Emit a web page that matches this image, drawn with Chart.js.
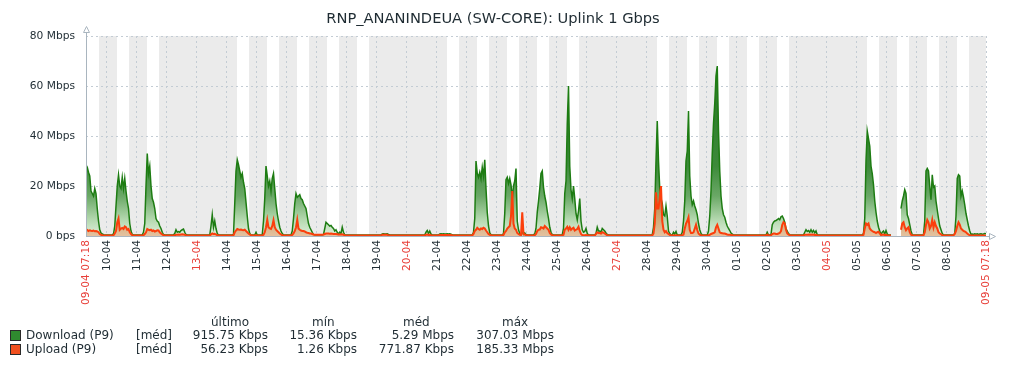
<!DOCTYPE html>
<html>
<head>
<meta charset="utf-8">
<script src="https://cdn.jsdelivr.net/npm/chart.js@4.4.1/dist/chart.umd.min.js"></script>
<style>
  body { margin: 0; background: #fff; }
  #wrap { position: relative; width: 1016px; height: 368px; font-family: 'DejaVu Sans', sans-serif; color: #1f2c33; }
  #graph { position: absolute; left: 0; top: 0; }
  .lg { position: absolute; font-size: 12px; line-height: 14px; white-space: nowrap; }
  .r { text-align: right; }
  .sq { position: absolute; width: 9px; height: 9px; border: 1px solid #2a2a2a; }
</style>
</head>
<body>
<div id="wrap">
  <canvas id="graph" width="1016" height="368"></canvas>
  <div id="legend"></div>
</div>
<script>
const chartTitle = 'RNP_ANANINDEUA (SW-CORE): Uplink 1 Gbps';

// x axis: hours since 09-04 07:18, one sample per hour
const START_CLOCK = 7.3;
const TOTAL_HOURS = 720;
const FIRST_WEEKDAY = 3; // 09-04 is a Wednesday

const tickLabels = ['09-04 07:18', '10-04', '11-04', '12-04', '13-04', '14-04', '15-04', '16-04', '17-04',
  '18-04', '19-04', '20-04', '21-04', '22-04', '23-04', '24-04', '25-04', '26-04', '27-04', '28-04',
  '29-04', '30-04', '01-05', '02-05', '03-05', '04-05', '05-05', '06-05', '07-05', '08-05', '09-05 07:18'];
const redLabels = ['09-04 07:18', '13-04', '20-04', '27-04', '04-05', '09-05 07:18'];

const yTicks = [0, 20, 40, 60, 80];
const yTickLabels = ['0 bps', '20 Mbps', '40 Mbps', '60 Mbps', '80 Mbps'];

// Mbps, hourly, one row per day starting 07:18
const downloadMbps = [
  28.5, 27.5, 25.5, 24, 18, 17, 16, 19, 17, 11, 6, 2.5, 1.2, 0.8, 0.5, 0.4, 0.4, 0.4, 0.4, 0.4, 0.4, 0.5, 0.8, 4,
  12, 20, 24.5, 20, 19, 23.5, 19, 23, 18, 14, 11, 5, 2, 0.6, 0.4, 0.4, 0.4, 0.4, 0.4, 0.4, 0.4, 0.5, 1.5, 5,
  20, 33, 25, 28, 20, 15, 13.5, 11, 7, 6, 5.5, 4, 3, 1.5, 0.6, 0.4, 0.4, 0.4, 0.4, 0.4, 0.4, 0.4, 0.5, 1,
  2.5, 1.5, 1.8, 1.5, 2.2, 2.5, 2.8, 1.5, 0.6, 0.4, 0.4, 0.4, 0.4, 0.4, 0.4, 0.4, 0.4, 0.4, 0.4, 0.4, 0.4, 0.4, 0.4, 0.4,
  0.4, 0.4, 0.4, 0.4, 4, 8.5, 3.5, 6, 3, 1, 0.4, 0.4, 0.4, 0.4, 0.4, 0.4, 0.4, 0.4, 0.4, 0.4, 0.4, 0.4, 0.6, 13,
  26, 30.5, 28.5, 26, 23.5, 25, 21.5, 19, 13.5, 8, 3, 1, 0.4, 0.4, 0.4, 0.4, 1.5, 0.4, 0.4, 0.4, 0.4, 0.5, 6, 15,
  28, 24, 20, 22, 18, 23, 25, 19, 13, 9, 6, 3.5, 2, 1, 0.4, 0.4, 0.4, 0.4, 0.4, 0.4, 0.4, 2, 7, 13,
  17, 15.5, 16, 16.5, 15, 14.5, 13, 12, 11, 8, 5, 3.5, 2.5, 1.5, 0.6, 0.4, 0.4, 0.4, 0.4, 0.4, 0.4, 0.4, 0.6, 3,
  5.5, 5, 4.5, 4, 4.2, 3.5, 3, 2, 2.5, 1.5, 0.8, 1.5, 1, 3.5, 1.5, 0.5, 0.4, 0.4, 0.4, 0.4, 0.4, 0.4, 0.4, 0.4,
  0.4, 0.4, 0.4, 0.4, 0.4, 0.4, 0.4, 0.4, 0.4, 0.4, 0.4, 0.4, 0.4, 0.4, 0.4, 0.4, 0.4, 0.4, 0.4, 0.4, 0.4, 0.8, 0.9, 0.8,
  0.8, 0.9, 0.6, 0.4, 0.4, 0.4, 0.4, 0.4, 0.4, 0.4, 0.4, 0.4, 0.4, 0.4, 0.4, 0.4, 0.4, 0.4, 0.4, 0.4, 0.4, 0.4, 0.4, 0.4,
  0.4, 0.4, 0.4, 0.4, 0.4, 0.4, 0.4, 0.4, 1.5, 2.2, 1, 2, 0.8, 0.4, 0.4, 0.4, 0.4, 0.4, 0.4, 0.8, 0.9, 0.8, 0.9, 0.8,
  0.8, 0.9, 0.8, 0.9, 0.7, 0.4, 0.4, 0.4, 0.4, 0.4, 0.4, 0.4, 0.4, 0.4, 0.4, 0.4, 0.4, 0.4, 0.4, 0.4, 0.4, 0.4, 1.5, 7,
  30, 25, 23.5, 25.5, 23, 27.5, 24, 30.5, 19, 9.5, 4, 1.2, 0.5, 0.4, 0.4, 0.4, 0.4, 0.4, 0.4, 0.4, 0.4, 0.4, 1, 9,
  22.5, 23.5, 21, 23, 20.5, 15, 20, 22, 27, 6, 2.5, 1, 0.8, 1.5, 0.6, 1.2, 0.6, 0.4, 0.4, 0.4, 0.4, 0.4, 0.5, 0.8,
  3, 9.5, 14, 19, 25, 26, 19.5, 16, 13.5, 10, 7, 3.5, 1.5, 0.6, 0.4, 0.4, 0.4, 0.4, 0.4, 0.4, 0.4, 0.4, 3, 17,
  22, 45, 60, 28, 18.5, 15, 20, 15, 9, 6.5, 10, 15, 6, 2.5, 1.5, 1.8, 3, 1, 0.4, 0.4, 0.4, 0.4, 0.4, 0.4,
  1, 3.5, 2, 2, 1.5, 3, 2.5, 2, 1.2, 0.6, 0.4, 0.4, 0.4, 0.4, 0.4, 0.4, 0.4, 0.4, 0.4, 0.4, 0.4, 0.4, 0.4, 0.4,
  0.4, 0.4, 0.4, 0.4, 0.4, 0.4, 0.4, 0.4, 0.4, 0.4, 0.4, 0.4, 0.4, 0.4, 0.4, 0.4, 0.4, 0.4, 0.4, 0.4, 0.4, 0.5, 3.5, 11,
  30, 46, 30, 19, 15, 13, 8.5, 8, 12, 8, 2, 1, 0.4, 0.4, 1.5, 0.8, 1.8, 0.4, 0.4, 0.4, 0.4, 1.5, 6, 14,
  30, 34, 50, 24, 16, 12.5, 14, 12, 10.5, 8.5, 5, 2.5, 1, 0.4, 0.4, 0.4, 0.4, 0.4, 2, 8, 18, 33, 45, 53,
  64, 68, 42, 26, 16, 11, 8.5, 7.5, 5.5, 4, 3, 2.2, 1.2, 0.8, 0.4, 0.4, 0.4, 0.4, 0.4, 0.4, 0.4, 0.4, 0.4, 0.4,
  0.4, 0.4, 0.4, 0.4, 0.4, 0.4, 0.4, 0.4, 0.4, 0.4, 0.4, 0.4, 0.4, 0.4, 0.4, 0.4, 0.4, 1.5, 0.4, 0.4, 0.6, 4.5, 5.5, 6,
  6.2, 6.5, 7, 6.5, 7.7, 8, 7, 5.5, 3, 2, 1, 0.5, 0.4, 0.4, 0.4, 0.4, 0.4, 0.4, 0.4, 0.4, 0.4, 0.4, 0.4, 1.5,
  2.5, 1.8, 2.2, 1.5, 2.5, 1.5, 2.2, 1.3, 2, 0.5, 0.4, 0.4, 0.4, 0.4, 0.4, 0.4, 0.4, 0.4, 0.4, 0.4, 0.4, 0.4, 0.4, 0.4,
  0.4, 0.4, 0.4, 0.4, 0.4, 0.4, 0.4, 0.4, 0.4, 0.4, 0.4, 0.4, 0.4, 0.4, 0.4, 0.4, 0.4, 0.4, 0.4, 0.4, 0.4, 0.4, 1, 7,
  30, 42, 39, 36, 28, 25, 20.5, 14, 9.5, 6, 3.5, 2, 0.6, 1.5, 2, 0.8, 2.2, 0.8, 0.4, 0.4, 0.4, null, null, null,
  null, null, null, null, 11, 14, 16, 18.5, 17, 8.5, 7, 4.5, 2, 0.5, 0.4, 0.4, 0.4, 0.4, 0.4, 0.4, 0.4, 0.4, 0.5, 6,
  26, 27, 26, 20, 14.5, 24.5, 19.5, 20, 14, 10.5, 7, 4, 2.5, 1, 0.4, 0.4, 0.4, 0.4, 0.4, 0.4, 0.4, 0.4, 0.4, 1,
  8, 23, 24.5, 24, 16, 18, 15.5, 12.5, 9, 6.5, 4, 2, 0.6, 0.8, 0.6, 0.9, 0.7, 0.9, 0.6, 0.8, 0.9, 0.7, 0.8, 1,
  0.92
];

const uploadMbps = [
  2.2, 2.4, 2, 2.3, 2.1, 2, 2.2, 1.9, 2, 1.8, 1.5, 0.8, 0.5, 0.3, 0.2, 0.2, 0.2, 0.2, 0.2, 0.2, 0.2, 0.2, 0.3, 1,
  2, 5.5, 7, 2.5, 3, 3.2, 2.8, 3.8, 3.5, 2.5, 2.8, 1.5, 0.8, 0.3, 0.2, 0.2, 0.2, 0.2, 0.2, 0.2, 0.2, 0.2, 0.3, 0.8,
  1.5, 2.8, 2.5, 2.3, 2.5, 2, 2.2, 1.8, 2, 2.3, 2.2, 1.5, 1, 0.6, 0.3, 0.2, 0.2, 0.2, 0.2, 0.2, 0.2, 0.2, 0.2, 0.3,
  0.5, 0.5, 0.6, 0.5, 0.6, 0.7, 0.6, 0.5, 0.3, 0.2, 0.2, 0.2, 0.2, 0.2, 0.2, 0.2, 0.2, 0.2, 0.2, 0.2, 0.2, 0.2, 0.2, 0.2,
  0.2, 0.2, 0.2, 0.2, 0.6, 1, 0.8, 0.9, 0.6, 0.3, 0.2, 0.2, 0.2, 0.2, 0.2, 0.2, 0.2, 0.2, 0.2, 0.2, 0.2, 0.2, 0.3, 1.5,
  2.2, 2.8, 2.6, 2.5, 2.6, 2.4, 2.3, 2.5, 2, 1.5, 1, 0.6, 0.3, 0.2, 0.2, 0.2, 0.3, 0.2, 0.2, 0.2, 0.2, 0.2, 0.5, 1.5,
  3.5, 6.5, 3.5, 3, 2.8, 4, 6.3, 3.5, 2.5, 2, 1.5, 1, 0.6, 0.3, 0.2, 0.2, 0.2, 0.2, 0.2, 0.2, 0.2, 0.4, 1, 2,
  3.5, 6.5, 3, 2.5, 2.2, 2, 2, 1.8, 1.5, 1.3, 1.2, 1, 1, 0.8, 0.6, 0.5, 0.5, 0.5, 0.5, 0.5, 0.5, 0.5, 0.6, 0.8,
  1, 1, 1, 0.9, 1, 0.9, 0.8, 0.8, 0.8, 0.7, 0.6, 0.6, 0.6, 0.7, 0.5, 0.3, 0.2, 0.2, 0.2, 0.2, 0.2, 0.2, 0.2, 0.2,
  0.2, 0.2, 0.2, 0.2, 0.2, 0.2, 0.2, 0.2, 0.2, 0.2, 0.2, 0.2, 0.2, 0.2, 0.2, 0.2, 0.2, 0.2, 0.2, 0.2, 0.2, 0.5, 0.5, 0.5,
  0.5, 0.5, 0.2, 0.2, 0.2, 0.2, 0.2, 0.2, 0.2, 0.2, 0.2, 0.2, 0.2, 0.2, 0.2, 0.2, 0.2, 0.2, 0.2, 0.2, 0.2, 0.2, 0.2, 0.2,
  0.2, 0.2, 0.2, 0.2, 0.2, 0.2, 0.2, 0.2, 0.5, 0.6, 0.4, 0.5, 0.3, 0.2, 0.2, 0.2, 0.2, 0.2, 0.2, 0.4, 0.4, 0.4, 0.4, 0.4,
  0.4, 0.4, 0.4, 0.4, 0.4, 0.2, 0.2, 0.2, 0.2, 0.2, 0.2, 0.2, 0.2, 0.2, 0.2, 0.2, 0.2, 0.2, 0.2, 0.2, 0.2, 0.2, 0.8, 2,
  2.5, 3.3, 2.8, 2.5, 3, 2.8, 3.3, 3, 2.2, 1.5, 0.8, 0.5, 0.3, 0.2, 0.2, 0.2, 0.2, 0.2, 0.2, 0.2, 0.2, 0.2, 0.4, 1.5,
  2, 3, 3.5, 4, 8, 18, 5, 3, 2.5, 1.2, 0.8, 0.5, 0.4, 9.5, 0.8, 0.6, 0.4, 0.3, 0.2, 0.2, 0.2, 0.2, 0.2, 0.3,
  0.8, 2, 2.5, 2.6, 3.5, 3.3, 3, 4, 3.5, 3, 2.5, 1.2, 0.6, 0.3, 0.2, 0.2, 0.2, 0.2, 0.2, 0.2, 0.2, 0.2, 0.5, 2.5,
  3, 3.7, 2.5, 3.5, 2.5, 3, 3.3, 2.2, 2.5, 2.8, 3.7, 2, 0.8, 0.4, 0.3, 0.3, 0.4, 0.3, 0.2, 0.2, 0.2, 0.2, 0.2, 0.2,
  0.8, 1.5, 1.2, 1.2, 1, 1.5, 1.3, 1, 0.6, 0.3, 0.2, 0.2, 0.2, 0.2, 0.2, 0.2, 0.2, 0.2, 0.2, 0.2, 0.2, 0.2, 0.2, 0.2,
  0.2, 0.2, 0.2, 0.2, 0.2, 0.2, 0.2, 0.2, 0.2, 0.2, 0.2, 0.2, 0.2, 0.2, 0.2, 0.2, 0.2, 0.2, 0.2, 0.2, 0.2, 0.2, 1, 5,
  17.5, 11, 11, 15.5, 20, 6, 2.5, 1.5, 2, 1.2, 0.8, 0.4, 0.2, 0.2, 0.3, 0.2, 0.3, 0.2, 0.2, 0.2, 0.2, 0.3, 0.6, 3,
  5, 6, 7.5, 2.5, 1.2, 1.2, 1.5, 3, 4.5, 2.4, 1, 0.5, 0.3, 0.2, 0.2, 0.2, 0.2, 0.2, 0.3, 0.5, 0.8, 1, 1.2, 1.5,
  3.5, 4.5, 3, 1.5, 1.2, 1.1, 1, 1, 0.8, 0.6, 0.5, 0.5, 0.4, 0.3, 0.2, 0.2, 0.2, 0.2, 0.2, 0.2, 0.2, 0.2, 0.2, 0.2,
  0.2, 0.2, 0.2, 0.2, 0.2, 0.2, 0.2, 0.2, 0.2, 0.2, 0.2, 0.2, 0.2, 0.2, 0.2, 0.2, 0.2, 0.6, 0.2, 0.2, 0.3, 0.8, 1, 1,
  0.8, 0.8, 1, 1.2, 2, 4.5, 5.5, 5, 2.5, 1, 0.6, 0.3, 0.2, 0.2, 0.2, 0.2, 0.2, 0.2, 0.2, 0.2, 0.2, 0.2, 0.2, 0.5,
  0.5, 0.5, 0.6, 0.5, 0.6, 0.5, 0.6, 0.4, 0.5, 0.3, 0.2, 0.2, 0.2, 0.2, 0.2, 0.2, 0.2, 0.2, 0.2, 0.2, 0.2, 0.2, 0.2, 0.2,
  0.2, 0.2, 0.2, 0.2, 0.2, 0.2, 0.2, 0.2, 0.2, 0.2, 0.2, 0.2, 0.2, 0.2, 0.2, 0.2, 0.2, 0.2, 0.2, 0.2, 0.2, 0.2, 0.5, 3,
  5, 4.5, 5, 3, 2.4, 2, 1.7, 1.5, 1.2, 1.5, 1.7, 1, 0.4, 0.5, 0.6, 0.4, 0.5, 0.3, 0.2, 0.2, 0.2, null, null, null,
  null, null, null, null, 2.5, 5, 5.5, 3.5, 2.3, 3, 3.5, 1.5, 0.5, 0.3, 0.2, 0.2, 0.2, 0.2, 0.2, 0.2, 0.2, 0.2, 0.3, 1.5,
  4.5, 6.5, 5.5, 3, 4, 6.5, 3.5, 5.5, 4, 3, 1.5, 1, 0.7, 0.3, 0.2, 0.2, 0.2, 0.2, 0.2, 0.2, 0.2, 0.2, 0.3, 0.8,
  2, 4, 5.5, 4.5, 3, 2.5, 2, 1.8, 1.5, 1, 0.6, 0.3, 0.2, 0.2, 0.2, 0.2, 0.2, 0.2, 0.2, 0.2, 0.2, 0.2, 0.2, 0.2,
  0.06
];

// legend table
const seriesNames = ['Download (P9)', 'Upload (P9)'];
const seriesColors = ['#2f8a2f', '#f2501f'];
const statHeaders = ['último', 'mín', 'méd', 'máx'];
const statLast = ['915.75 Kbps', '56.23 Kbps'];
const statMin = ['15.36 Kbps', '1.26 Kbps'];
const statAvg = ['5.29 Mbps', '771.87 Kbps'];
const statMax = ['307.03 Mbps', '185.33 Mbps'];

const TEXT = '#1f2c33';
const RED = '#e8403a';
const GRID = '#c3ccd4';
const AXIS = '#a9b5bf';

const tickHours = tickLabels.map((l, i) =>
  i === 0 ? 0 : (i === tickLabels.length - 1 ? TOTAL_HOURS : (24 - START_CLOCK) + 24 * (i - 1)));

function toPoints(arr) {
  return arr.map((v, i) => ({ x: i, y: v }));
}

// non-working time shading (weekdays 08:00-18:00 stay white)
const workBands = {
  id: 'workBands',
  beforeDraw(chart) {
    const { ctx, chartArea: a, scales: { x } } = chart;
    ctx.save();
    ctx.fillStyle = '#ebebeb';
    ctx.fillRect(a.left, a.top, a.right - a.left, a.bottom - a.top);
    ctx.fillStyle = '#ffffff';
    for (let d = 0; d <= 30; d++) {
      const wd = (FIRST_WEEKDAY + d) % 7;
      if (wd === 0 || wd === 6) continue;
      const s = Math.max(0, d * 24 + 8 - START_CLOCK);
      const e = Math.min(TOTAL_HOURS, d * 24 + 18 - START_CLOCK);
      if (e <= s) continue;
      const x1 = Math.round(x.getPixelForValue(s));
      const x2 = Math.round(x.getPixelForValue(e));
      ctx.fillRect(x1, a.top, x2 - x1, a.bottom - a.top);
    }
    ctx.restore();
  }
};

const axisArrows = {
  id: 'axisArrows',
  afterDraw(chart) {
    const { ctx, chartArea: a } = chart;
    const l = Math.round(a.left) + 0.5, b = Math.round(a.bottom) + 0.5, r = Math.round(a.right);
    ctx.save();
    ctx.strokeStyle = AXIS;
    ctx.lineWidth = 1;
    ctx.beginPath();
    ctx.moveTo(l, b);
    ctx.lineTo(l, a.top - 4);
    ctx.moveTo(l - 0.5, b);
    ctx.lineTo(r + 3, b);
    ctx.stroke();
    ctx.beginPath();
    ctx.moveTo(l - 3, a.top - 3.5);
    ctx.lineTo(l + 3, a.top - 3.5);
    ctx.lineTo(l, a.top - 9.5);
    ctx.closePath();
    ctx.moveTo(r + 3.5, b - 3);
    ctx.lineTo(r + 3.5, b + 3);
    ctx.lineTo(r + 9.5, b);
    ctx.closePath();
    ctx.stroke();
    ctx.restore();
  }
};

function downloadFill(context) {
  const { ctx, chartArea } = context.chart;
  if (!chartArea) return 'rgba(80,150,80,0.5)';
  const g = ctx.createLinearGradient(0, chartArea.bottom, 0, chartArea.top);
  g.addColorStop(0, '#e0efdc');
  g.addColorStop(0.08, '#b5d9b0');
  g.addColorStop(0.2, '#6aa866');
  g.addColorStop(0.35, '#3d8a3a');
  g.addColorStop(1, '#1f6e1a');
  return g;
}

function uploadFill(context) {
  const { ctx, chartArea } = context.chart;
  if (!chartArea) return 'rgba(240,110,50,0.4)';
  const g = ctx.createLinearGradient(0, chartArea.bottom, 0, chartArea.top);
  g.addColorStop(0, 'rgba(236,130,75,0.42)');
  g.addColorStop(0.25, 'rgba(240,100,40,0.6)');
  g.addColorStop(1, 'rgba(240,90,30,0.7)');
  return g;
}

new Chart(document.getElementById('graph'), {
  type: 'line',
  data: {
    datasets: [{
      label: seriesNames[1],
      data: toPoints(uploadMbps),
      borderColor: '#fb3f0c',
      borderWidth: 2,
      backgroundColor: uploadFill,
      fill: 'origin',
      pointRadius: 0,
      tension: 0,
      order: 0
    }, {
      label: seriesNames[0],
      data: toPoints(downloadMbps),
      borderColor: '#1d7c12',
      borderWidth: 1.5,
      backgroundColor: downloadFill,
      fill: 'origin',
      pointRadius: 0,
      tension: 0,
      order: 1
    }]
  },
  options: {
    responsive: false,
    animation: false,
    devicePixelRatio: 1,
    layout: { padding: { left: 0, right: 30, top: 0, bottom: 0 } },
    plugins: {
      legend: { display: false },
      tooltip: { enabled: false },
      title: {
        display: true,
        text: chartTitle,
        color: TEXT,
        font: { family: 'DejaVu Sans', size: 14.67, weight: 'normal', lineHeight: 1.2 },
        padding: { top: 10, bottom: 8.4 }
      }
    },
    scales: {
      x: {
        type: 'linear',
        min: 0,
        max: TOTAL_HOURS,
        afterFit(scale) { scale.height = 132; },
        afterBuildTicks(scale) { scale.ticks = tickHours.map(v => ({ value: v })); },
        ticks: {
          autoSkip: false,
          maxRotation: 90,
          minRotation: 90,
          padding: 4,
          font: { family: 'DejaVu Sans', size: 10.67 },
          color: (c) => redLabels.includes(tickLabels[c.index]) ? RED : TEXT,
          callback: (v, i) => tickLabels[i]
        },
        grid: { color: GRID, lineWidth: 1, drawTicks: false },
        border: { display: false, dash: [2, 3] }
      },
      y: {
        min: 0,
        max: 80,
        afterFit(scale) { scale.width = 86; },
        afterBuildTicks(scale) { scale.ticks = yTicks.map(v => ({ value: v })); },
        ticks: {
          padding: 11,
          font: { family: 'DejaVu Sans', size: 10.67 },
          color: TEXT,
          callback: (v) => yTickLabels[yTicks.indexOf(v)]
        },
        grid: { color: GRID, lineWidth: 1, drawTicks: false },
        border: { display: false, dash: [2, 3] }
      }
    }
  },
  plugins: [workBands, axisArrows]
});

// legend below the graph
const legend = document.getElementById('legend');
function addText(txt, left, top, width, right) {
  const d = document.createElement('div');
  d.className = 'lg' + (right ? ' r' : '');
  d.style.left = left + 'px';
  d.style.top = top + 'px';
  if (width) d.style.width = width + 'px';
  d.textContent = txt;
  legend.appendChild(d);
}
const headerLeft = [211, 312, 403, 502];
statHeaders.forEach((h, i) => addText(h, headerLeft[i], 315));
const valueRight = [268, 357, 454, 554];
seriesNames.forEach((name, r) => {
  const top = 328 + r * 14;
  const sq = document.createElement('div');
  sq.className = 'sq';
  sq.style.left = '10px';
  sq.style.top = (top + 2) + 'px';
  sq.style.background = seriesColors[r];
  legend.appendChild(sq);
  addText(name, 26, top);
  addText('[méd]', 136, top);
  [statLast[r], statMin[r], statAvg[r], statMax[r]].forEach((v, c) =>
    addText(v, valueRight[c] - 100, top, 100, true));
});
</script>
</body>
</html>
